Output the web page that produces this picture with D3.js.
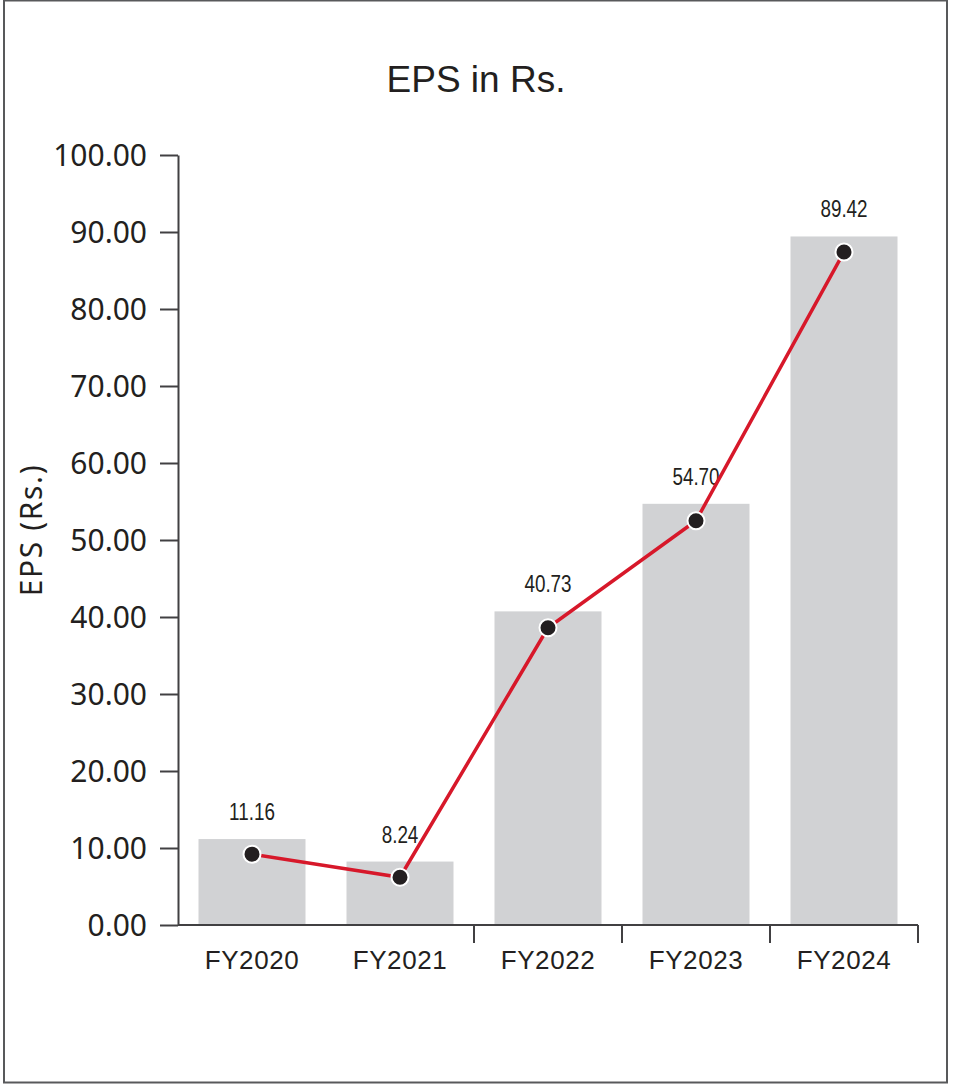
<!DOCTYPE html>
<html>
<head>
<meta charset="utf-8">
<script src="https://cdn.jsdelivr.net/npm/d3@7"></script>
<style>
  html, body { margin: 0; padding: 0; background: #fff; }
  svg { display: block; }
</style>
</head>
<body>
<svg id="chart" width="953" height="1087"></svg>
<script>
// Fiscal years and earnings per share (bars, with printed values)
const years = ["FY2020", "FY2021", "FY2022", "FY2023", "FY2024"];
const eps = [11.16, 8.24, 40.73, 54.70, 89.42];
// Trend line points plotted over the bars
const trend = [9.2, 6.2, 38.6, 52.5, 87.4];
// Value axis ticks
const yTicks = [0, 10, 20, 30, 40, 50, 60, 70, 80, 90, 100];

const svg = d3.select("#chart");
const dark = "#231f20";

// outer frame
svg.append("rect")
  .attr("x", 4).attr("y", 0.5)
  .attr("width", 943).attr("height", 1082)
  .attr("fill", "#fff")
  .attr("stroke", "#58595b")
  .attr("stroke-width", 2);

const plotLeft = 178, plotRight = 918, plotTop = 155, plotBottom = 925;

const x = d3.scaleBand().domain(years).range([plotLeft, plotRight]).paddingInner(0.277).paddingOuter(0.1385);
const y = d3.scaleLinear().domain([0, 100]).range([plotBottom, plotTop]);

// title
svg.append("text")
  .attr("x", 476).attr("y", 92)
  .attr("text-anchor", "middle")
  .attr("font-family", "'Liberation Sans', Arial, sans-serif")
  .attr("font-size", 37)
  .attr("fill", dark)
  .text("EPS in Rs.");

// bars
svg.append("g").selectAll("rect")
  .data(years)
  .join("rect")
  .attr("x", d => x(d))
  .attr("width", x.bandwidth())
  .attr("y", (d, i) => y(eps[i]))
  .attr("height", (d, i) => y(0) - y(eps[i]))
  .attr("fill", "#d1d2d4");

// y axis
const yAxis = d3.axisLeft(y)
  .tickValues(yTicks)
  .tickFormat(d3.format(".2f"))
  .tickSize(18)
  .tickPadding(13)
  .tickSizeOuter(0);
const gy = svg.append("g").attr("transform", `translate(${plotLeft},0)`).call(yAxis);
gy.select(".domain").attr("stroke", "#414042").attr("stroke-width", 2);
gy.selectAll(".tick line").attr("stroke", "#414042").attr("stroke-width", 2);
gy.selectAll(".tick text")
  .attr("font-family", "'Noto Sans', 'Open Sans', sans-serif")
  .attr("font-size", 30)
  .attr("fill", dark)
  .attr("dy", "0.36em");

// x axis: baseline plus separators between later categories
const gx = svg.append("g").attr("transform", `translate(0,${plotBottom})`);
gx.append("line")
  .attr("x1", plotLeft).attr("x2", plotRight)
  .attr("stroke", "#414042").attr("stroke-width", 2);
const step = x.step();
const sepIdx = [2, 3, 4, 5];
gx.selectAll("line.sep")
  .data(sepIdx)
  .join("line")
  .attr("class", "sep")
  .attr("x1", i => plotLeft + i * step).attr("x2", i => plotLeft + i * step)
  .attr("y1", 0).attr("y2", 18)
  .attr("stroke", "#414042").attr("stroke-width", 2);
gx.selectAll("text")
  .data(years)
  .join("text")
  .attr("x", d => x(d) + x.bandwidth() / 2)
  .attr("y", 44)
  .attr("text-anchor", "middle")
  .attr("font-family", "'Liberation Sans', Arial, sans-serif")
  .attr("font-size", 26)
  .attr("letter-spacing", 0.6)
  .attr("fill", dark)
  .text(d => d);

// y axis title
svg.append("text")
  .attr("transform", "translate(42,530) rotate(-90)")
  .attr("text-anchor", "middle")
  .attr("font-family", "'Noto Sans', 'Open Sans', sans-serif")
  .attr("font-size", 30)
  .attr("letter-spacing", 1.6)
  .attr("fill", dark)
  .text("EPS (Rs.)");

// value labels above bars (condensed)
svg.append("g").selectAll("text")
  .data(years)
  .join("text")
  .attr("transform", (d, i) => `translate(${x(d) + x.bandwidth() / 2},${y(eps[i]) - 19}) scale(0.82,1)`)
  .attr("text-anchor", "middle")
  .attr("font-family", "'Liberation Sans', Arial, sans-serif")
  .attr("font-size", 23)
  .attr("fill", dark)
  .text((d, i) => eps[i].toFixed(2));

// trend line
const line = d3.line()
  .x((d, i) => x(years[i]) + x.bandwidth() / 2)
  .y(d => y(d));
svg.append("path")
  .datum(trend)
  .attr("d", line)
  .attr("fill", "none")
  .attr("stroke", "#d7182a")
  .attr("stroke-width", 3.5);

svg.append("g").selectAll("circle")
  .data(trend)
  .join("circle")
  .attr("cx", (d, i) => x(years[i]) + x.bandwidth() / 2)
  .attr("cy", d => y(d))
  .attr("r", 8.5)
  .attr("fill", dark)
  .attr("stroke", "#fff")
  .attr("stroke-width", 2);
</script>
</body>
</html>
